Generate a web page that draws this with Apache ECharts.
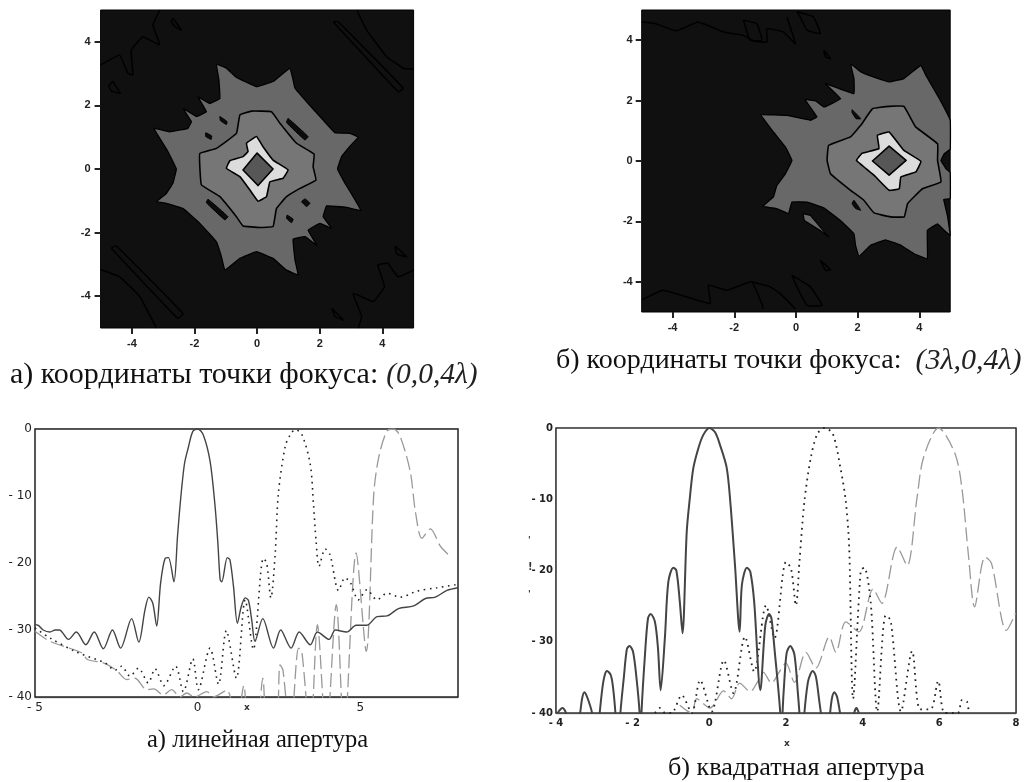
<!DOCTYPE html>
<html><head><meta charset="utf-8">
<style>html,body{margin:0;padding:0;background:#fff}#c{width:1025px;height:782px;filter:blur(0.55px)}</style>
<script src="https://cdn.jsdelivr.net/npm/echarts@6/dist/echarts.min.js"></script>
</head><body><div id="c"></div>
<script>
// ---- contour panel (a) : level outlines, data units
const aOuter=[[-1.30,3.30],[-0.98,3.17],[-0.66,2.88],[-0.02,2.59],[0.51,2.75],[1.05,3.17],[1.15,2.80],[1.21,2.54],[1.63,2.06],[2.11,1.54],[2.49,1.14],[2.97,1.12],[3.23,1.00],[2.97,0.72],[2.70,0.39],[2.57,0],[2.81,-0.45],[3.07,-0.87],[3.32,-1.31],[2.86,-1.21],[2.22,-1.16],[2.11,-1.50],[2.38,-1.87],[2.01,-1.71],[1.63,-1.92],[1.90,-2.39],[1.53,-2.13],[1.15,-2.21],[1.21,-2.86],[1.31,-3.33],[0.94,-3.18],[0.51,-2.81],[-0.02,-2.60],[-0.55,-2.81],[-1.03,-3.18],[-1.14,-2.76],[-1.30,-2.29],[-1.83,-1.71],[-2.37,-1.24],[-2.90,-1.08],[-3.22,-1.03],[-2.90,-0.77],[-2.69,-0.45],[-2.58,0],[-2.85,0.55],[-3.30,1.28],[-2.79,1.17],[-2.21,1.28],[-2.10,1.49],[-2.37,1.91],[-1.94,1.65],[-1.62,1.80],[-1.89,2.27],[-1.51,2.06],[-1.19,2.22],[-1.22,2.80]];
const aInner=[[-0.55,1.70],[-0.18,1.82],[0.46,1.80],[0.73,1.44],[1.26,0.81],[1.82,0.47],[1.79,0.07],[1.88,-0.35],[1.37,-0.61],[0.94,-0.87],[0.62,-1.24],[0.51,-1.81],[0.09,-1.84],[-0.45,-1.79],[-0.66,-1.50],[-1.19,-0.87],[-1.78,-0.50],[-1.83,0.07],[-1.83,0.49],[-1.30,0.65],[-0.66,1.12]];
const aLight=[[-0.34,0.81],[-0.02,1.02],[0.19,0.70],[0.51,0.28],[0.99,-0.03],[0.83,-0.29],[0.41,-0.40],[0.30,-0.87],[0.03,-1.01],[-0.23,-0.66],[-0.55,-0.24],[-0.98,0.02],[-0.87,0.26],[-0.45,0.39],[-0.29,0.55]];
const aCore=[[0,0.50],[0.51,0],[0.03,-0.52],[-0.45,-0.03]];
const aHoles=[
 [[-1.19,1.65],[-0.96,1.49],[-0.98,1.40],[-1.17,1.52]],
 [[-1.64,1.14],[-1.45,1.04],[-1.47,0.93],[-1.64,1.02]],
 [[0.99,1.59],[1.63,1.02],[1.53,0.91],[0.94,1.46]],
 [[-1.57,-0.95],[-0.93,-1.50],[-1.03,-1.60],[-1.62,-1.06]],
 [[1.53,-0.94],[1.69,-1.08],[1.58,-1.18],[1.42,-1.03]],
 [[0.96,-1.45],[1.15,-1.58],[1.10,-1.69],[0.94,-1.55]]];
const aFaint=[
 [[-5,3.27],[-4.39,3.58],[-4.13,3.01],[-3.97,2.96],[-4.02,3.74],[-3.65,4.16],[-3.11,3.90],[-3.33,4.53],[-3.11,5]],
 [[-2.69,4.74],[-2.42,4.37],[-2.63,4.48],[-2.74,4.63],[-2.69,4.74]],
 [[-4.61,2.75],[-4.37,2.38],[-4.66,2.46],[-4.74,2.61],[-4.61,2.75]],
 [[3.18,5],[3.50,4.37],[4.14,3.53],[4.67,3.17],[5,3.14]],
 [[2.43,4.63],[2.59,4.63],[4.67,2.54],[4.51,2.43],[2.43,4.63]],
 [[-5,-3.16],[-4.39,-3.39],[-3.75,-4.01],[-3.22,-5]],
 [[-4.66,-2.49],[-4.50,-2.42],[-2.37,-4.54],[-2.53,-4.70],[-4.66,-2.49]],
 [[5,-3.18],[4.50,-3.39],[4.18,-2.97],[3.86,-3.02],[4.07,-3.70],[3.71,-4.17],[3.07,-3.91],[3.34,-4.64],[3.23,-5]],
 [[4.41,-2.42],[4.78,-2.76],[4.46,-2.67],[4.41,-2.42]],
 [[2.38,-4.38],[2.75,-4.75],[2.49,-4.64],[2.38,-4.38]]];
// ---- contour panel (b)
const bOuter=[[1.77,3.22],[2.10,2.95],[2.53,2.78],[3.02,2.62],[3.50,2.73],[4.05,3.17],[4.21,2.84],[4.65,2.06],[5,1.35],[5,0.39],[4.81,0.24],[4.70,0.02],[4.86,-0.25],[5,-0.38],[5,-1.25],[4.79,-1.27],[4.91,-1.80],[5,-2.46],[4.86,-2.35],[4.59,-2.08],[4.26,-2.30],[4.26,-3.24],[3.83,-3.07],[3.40,-2.79],[2.90,-2.61],[2.42,-2.79],[2.04,-3.16],[1.93,-2.79],[1.88,-2.41],[1.44,-1.97],[0.90,-1.55],[0.36,-1.36],[-0.13,-1.36],[-0.24,-1.74],[-0.62,-1.58],[-1.07,-1.50],[-0.73,-1.19],[-0.62,-0.81],[-0.34,-0.42],[-0.13,0.02],[-0.34,0.46],[-0.73,0.96],[-1.13,1.53],[-0.29,1.51],[0.47,1.35],[0.68,1.46],[0.30,2.03],[0.64,1.99],[0.91,1.79],[1.45,2.06],[0.96,2.56],[1.88,2.23],[1.88,2.73]];
const bInner=[[2.48,1.73],[3.02,1.81],[3.50,1.81],[3.88,1.13],[4.59,0.57],[4.59,0.02],[4.70,-0.69],[4.10,-0.92],[3.62,-1.41],[3.51,-1.85],[3.07,-1.85],[2.53,-1.72],[2.20,-1.30],[1.77,-0.97],[1.12,-0.42],[1.01,0.02],[1.06,0.52],[1.77,0.80],[2.10,1.18]];
const bLight=[[2.64,0.85],[3.02,0.96],[3.50,0.35],[4.05,-0.01],[3.89,-0.36],[3.40,-0.53],[3.35,-0.92],[3.02,-0.97],[2.53,-0.47],[1.96,0.02],[2.15,0.26],[2.69,0.41]];
const bCore=[[3.02,0.49],[3.57,0.02],[3.02,-0.47],[2.48,0]];
const bHoles=[[[1.82,1.70],[2.10,1.40],[1.95,1.40],[1.82,1.60]],[[1.88,-1.30],[2.10,-1.63],[1.93,-1.57],[1.82,-1.41]]];
const bIsland=[[0.23,-1.74],[0.47,-1.80],[1.06,-2.52],[0.79,-2.30],[0.27,-1.97]];
const bFaint=[
 [[-5,4.6],[-4.57,4.55],[-3.87,4.31],[-3.17,4.6],[-2.35,4.27],[-1.70,4.16],[-1.37,3.97],[-0.94,3.94],[-0.94,4.38],[-0.40,4.27],[-0.02,3.88],[-0.29,4.77]],
 [[-1.70,4.66],[-1.27,4.55],[-1.10,4.0],[-1.49,4.0],[-1.70,4.66]],
 [[0.03,4.94],[0.57,4.77],[0.79,4.22],[0.36,4.33],[0.14,4.77],[0.03,4.94]],
 [[0.90,3.67],[1.12,3.39],[0.96,3.44],[0.90,3.67]],
 [[-5,-4.6],[-4.30,-4.28],[-2.78,-4.72],[-2.84,-4.11],[-2.24,-4.28],[-1.43,-4.0],[-1.05,-4.89]],
 [[-1.43,-4.0],[-0.83,-4.17],[-0.51,-4.39],[-0.02,-4.89]],
 [[-0.13,-3.78],[0.47,-4.17],[0.85,-4.78],[0.36,-4.78],[0.03,-4.17],[-0.13,-3.78]],
 [[0.79,-3.29],[1.12,-3.60],[0.96,-3.62],[0.79,-3.29]]];
// ---- pattern cut, linear aperture
const cSolid=[[-5,-29.2],[-4.9,-29.3],[-4.75,-30],[-4.54,-30.3],[-4.38,-30],[-4.25,-30],[-3.97,-31.4],[-3.73,-30.3],[-3.44,-32.2],[-3.18,-30.3],[-2.9,-32.8],[-2.62,-30],[-2.37,-32.7],[-2.03,-28.3],[-1.81,-31.8],[-1.62,-27],[-1.5,-25.1],[-1.38,-26],[-1.26,-29.4],[-1.14,-23],[-1.0,-19.3],[-0.9,-19.2],[-0.73,-22.8],[-0.62,-16],[-0.54,-11.3],[-0.41,-5.3],[-0.29,-2.8],[-0.15,-0.35],[0,0],[0.17,-0.85],[0.38,-4.8],[0.53,-11.3],[0.62,-17],[0.69,-22.5],[0.74,-22.8],[0.91,-19.2],[0.99,-19.5],[1.1,-23.5],[1.22,-29],[1.34,-26.5],[1.46,-25.2],[1.56,-25.6],[1.66,-28.5],[1.76,-31.7],[2.0,-28.3],[2.33,-32.7],[2.55,-30],[2.87,-32.7],[3.12,-30.3],[3.46,-32.2],[3.68,-30.3],[4.04,-31.4],[4.23,-30],[4.58,-30.3],[4.87,-29.3],[5.2,-29.3],[5.51,-28],[5.82,-27.9],[6.17,-26.8],[6.64,-26.4],[7.0,-25.3],[7.3,-25.1],[7.66,-24.1],[8,-23.7]];
const cDotted=[[-5,-29.7],[-4.54,-31.2],[-3.72,-33.3],[-2.85,-34.9],[-2.54,-36],[-2.34,-35.4],[-2.08,-36.9],[-1.82,-35.7],[-1.52,-37.9],[-1.31,-35.8],[-1.04,-38.3],[-0.68,-35.4],[-0.44,-39.2],[-0.15,-34.3],[0.02,-38.9],[0.38,-32.7],[0.64,-38.1],[0.88,-30.1],[1.19,-37.2],[1.46,-25.5],[1.71,-32.9],[2.02,-19.3],[2.12,-20],[2.25,-25.2],[2.38,-18.8],[2.48,-9.6],[2.69,-2.6],[2.85,-0.8],[3,-0.1],[3.2,-0.8],[3.46,-5.3],[3.56,-11.3],[3.64,-16.8],[3.73,-20.5],[3.92,-17.9],[4.07,-18.8],[4.33,-24.1],[4.53,-22.2],[4.7,-23],[4.94,-25.5],[5.2,-24],[5.51,-25.5],[5.82,-24.5],[6.23,-25.1],[6.74,-24.2],[7.35,-23.7],[8,-23.2]];
const cDashed=[[-5,-30.2],[-4.54,-31.7],[-3.57,-33.4],[-3.39,-34.4],[-2.9,-34.9],[-2.5,-36],[-2.18,-37.4],[-1.93,-37.2],[-1.57,-38.9],[-1.35,-38.8],[-1.06,-39.7],[-0.8,-38.9],[-0.54,-40],[-0.34,-39.4],[-0.1,-40],[0.28,-39.2],[0.48,-40],[0.89,-39],[1.2,-44],[1.42,-38.3],[1.56,-44],[1.8,-44],[2.0,-37.2],[2.15,-46],[2.4,-46],[2.53,-35.2],[2.62,-36],[2.85,-46],[3.1,-32.7],[3.2,-33.2],[3.46,-46],[3.68,-29.2],[3.95,-46],[4.26,-26.2],[4.5,-46],[4.87,-18.5],[5.18,-33.2],[5.41,-9.8],[5.56,-4.3],[5.81,-0.35],[6,0],[6.2,-0.85],[6.53,-6.3],[6.69,-12.3],[6.89,-16.3],[7.15,-14.9],[7.46,-17.5],[7.76,-19]];
// ---- pattern cut, square aperture
const dSolid=[[-3.96,-40],[-3.83,-39.3],[-3.74,-40],[-3.55,-46],[-3.37,-40],[-3.32,-38],[-3.26,-37.1],[-3.2,-37.6],[-3.12,-38.8],[-3.06,-40],[-2.96,-46],[-2.86,-40],[-2.79,-36.5],[-2.73,-34.7],[-2.67,-34.1],[-2.57,-34.7],[-2.51,-36.5],[-2.45,-40],[-2.38,-46],[-2.32,-40],[-2.23,-35],[-2.15,-31],[-2.08,-30.6],[-1.99,-31.4],[-1.9,-35.1],[-1.82,-40],[-1.8,-46],[-1.77,-40],[-1.68,-31.9],[-1.6,-26.7],[-1.53,-26.1],[-1.42,-27.2],[-1.34,-30.9],[-1.27,-36.8],[-1.16,-29.5],[-1.07,-21.6],[-0.94,-19.6],[-0.86,-20],[-0.77,-24.4],[-0.7,-28.8],[-0.59,-14.6],[-0.51,-9.9],[-0.42,-5.7],[-0.29,-2.9],[-0.16,-1],[0,0],[0.15,-0.6],[0.28,-2.4],[0.45,-5.5],[0.54,-9.9],[0.67,-19.3],[0.79,-28.6],[0.85,-22],[0.98,-19.6],[1.07,-20.2],[1.17,-24.4],[1.33,-36.8],[1.46,-27.7],[1.56,-26.1],[1.62,-26.7],[1.7,-31],[1.85,-40],[1.88,-46],[1.91,-40],[1.96,-35.2],[2.02,-31.5],[2.11,-30.6],[2.22,-31.8],[2.31,-37.2],[2.35,-40],[2.41,-46],[2.48,-40],[2.57,-35.7],[2.64,-34.5],[2.7,-34.1],[2.78,-34.9],[2.87,-38.4],[2.91,-40],[3.03,-46],[3.15,-40],[3.2,-37.9],[3.26,-37.1],[3.33,-37.7],[3.41,-40],[3.6,-46],[3.78,-40],[3.84,-39.3],[3.9,-40]];
const dDotted=[[-1.42,-40],[-1.29,-39.3],[-1.15,-40],[-0.99,-40],[-0.72,-37.5],[-0.46,-40],[-0.24,-35.4],[0.06,-39.8],[0.38,-32.6],[0.63,-37.2],[0.93,-29.3],[1.17,-34.2],[1.48,-24.9],[1.7,-29.5],[2,-18.8],[2.13,-19.7],[2.26,-24.9],[2.35,-18.8],[2.48,-10.3],[2.65,-4.1],[2.82,-0.8],[3,0],[3.22,-0.8],[3.43,-5.9],[3.56,-10.3],[3.65,-17],[3.75,-38],[3.95,-20],[4.04,-19.6],[4.21,-24.5],[4.38,-39.8],[4.6,-26.3],[4.73,-27],[5,-39.8],[5.29,-31.3],[5.5,-39.5],[5.77,-39.5],[5.97,-35.5],[6.14,-40],[6.48,-40],[6.59,-38.2],[6.72,-38.4],[6.76,-39.6]];
const dDashed=[[-0.77,-38.9],[-0.46,-40],[-0.33,-38],[0.02,-39.3],[0.37,-36.9],[0.58,-38],[0.79,-35.8],[1.07,-37],[1.24,-35.8],[1.41,-34.3],[1.62,-35.8],[1.83,-34.2],[2,-33],[2.22,-35.7],[2.52,-31.5],[2.78,-33.7],[3.13,-29.3],[3.3,-31.5],[3.56,-27.2],[3.9,-28.6],[4.27,-22.6],[4.5,-24.6],[4.9,-16.7],[5.16,-19.3],[5.42,-9.7],[5.59,-4.1],[5.98,0],[6.41,-3.6],[6.59,-8.5],[6.76,-17.9],[6.92,-25.1],[7.19,-18.1],[7.36,-19],[7.75,-28.4],[7.99,-26]];
// ---- ticks and captions
const contourTicks=[-4,-2,0,2,4];
const cXTicks=[-5,0,5];
const capA=['а) координаты точки фокуса:','(0,0,4λ)'];
const capB=['б) координаты точки фокуса:','(3λ,0,4λ)'];
const capC='а) линейная апертура';
const capD='б) квадратная апертура';

function shape(pts,idx,fill,stroke,w,closed,sm){
  return {type:'custom',coordinateSystem:'cartesian2d',xAxisIndex:idx,yAxisIndex:idx,silent:true,data:pts,
    encode:{x:0,y:1},
    renderItem:function(p,api){
      if(p.dataIndex!==0) return null;
      return {type:closed?'polygon':'polyline',
        shape:{points:pts.map(q=>api.coord(q)),smooth:sm||0},
        style:{fill:closed?fill:null,stroke:stroke,lineWidth:w,lineJoin:'round'}};
    }};
}
function contour(idx,outer,inner,light,core,holes,faint,extra){
  const s=[];
  faint.forEach(f=>s.push(shape(f,idx,null,'#000',1.5,false,0.1)));
  s.push(shape(outer,idx,'#686868','#000',1.3,true,0.06));
  holes.forEach(h=>s.push(shape(h,idx,'#0c0c0c','#000',1,true,0.1)));
  if(extra) s.push(shape(extra,idx,'#686868','#000',1.2,true));
  s.push(shape(inner,idx,'#767676','#000',1.6,true,0.08));
  s.push(shape(light,idx,'#dcdcdc','#000',1.6,true,0.08));
  s.push(shape(core,idx,'#575757','#000',1.6,true));
  return s;
}
function line(d,idx,color,type,w){
  return {type:'line',xAxisIndex:idx,yAxisIndex:idx,data:d,showSymbol:false,smooth:0.3,silent:true,
    lineStyle:{color:color,type:type,width:w}};
}
const labC={fontFamily:'Liberation Sans',fontWeight:'bold',fontSize:11,color:'#222'};
function cAxis(idx,m){
  return {type:'value',gridIndex:idx,min:-5,max:5,splitLine:{show:false},
    axisLine:{show:false,onZero:false},
    axisTick:{show:true,customValues:contourTicks,length:6,lineStyle:{color:'#222',width:2}},
    axisLabel:Object.assign({customValues:contourTicks,margin:m},labC)};
}
function yAxisLine(idx,lab,pad){
  return {type:'value',gridIndex:idx,min:-40,max:0,interval:10,
    splitLine:{show:true,lineStyle:{color:'#999',width:1.3}},
    axisLine:{show:false,onZero:false},axisTick:{show:false},
    axisLabel:Object.assign({margin:3,padding:[pad,0,0,0],formatter:v=>v===0?'0':'- '+Math.abs(v)},lab)};
}
const labL={fontFamily:'DejaVu Sans',fontSize:12,color:'#222'};
const labR={fontFamily:'DejaVu Sans',fontWeight:'bold',fontSize:10,color:'#222'};
function cap(parts,left,top,size,isize,gap){
  const n={fontFamily:'Liberation Serif',fontWeight:'normal',fontSize:size,color:'#111'};
  const i={fontFamily:'Liberation Serif',fontWeight:'normal',fontStyle:'italic',fontSize:isize,color:'#222',padding:[0,0,0,gap]};
  const text=Array.isArray(parts)?'{n|'+parts[0]+'}{i|'+parts[1]+'}':'{n|'+parts+'}';
  return {text:text,left:left,top:top,padding:0,textStyle:{rich:{n:n,i:i}}};
}
const chart=echarts.init(document.getElementById('c'),null,{renderer:'canvas'});
chart.setOption({
  animation:false,backgroundColor:'#fff',
  title:[cap(capA,10,360,30,29.5,8),cap(capB,556,346,28,30,14),cap(capC,147,728,24.5),cap(capD,668,755,26.2)],
  grid:[
    {left:100.6,top:10,width:313,height:318,show:true,backgroundColor:'#101010',borderColor:'#000',borderWidth:1},
    {left:641.7,top:10,width:308.5,height:302,show:true,backgroundColor:'#101010',borderColor:'#000',borderWidth:1},
    {left:35,top:429,width:423,height:268,show:true,backgroundColor:'#fff',borderColor:'#222',borderWidth:1.5,z:3},
    {left:556,top:428,width:460,height:285,show:true,backgroundColor:'#fff',borderColor:'#333',borderWidth:1.5,z:3}
  ],
  xAxis:[cAxis(0,10),cAxis(1,10),
    {type:'value',gridIndex:2,min:-5,max:8,splitLine:{show:true,lineStyle:{color:'#999',width:1.3}},axisLine:{show:false,onZero:false},
     axisTick:{show:false,customValues:cXTicks},axisLabel:Object.assign({customValues:cXTicks,margin:5,formatter:v=>v<0?'- '+Math.abs(v):''+v},labL)},
    {type:'value',gridIndex:3,min:-4,max:8,interval:2,splitLine:{show:true,lineStyle:{color:'#999',width:1.5}},axisLine:{show:false,onZero:false},
     axisTick:{show:false},axisLabel:Object.assign({margin:5,formatter:v=>v<0?'- '+Math.abs(v):''+v},labR)}],
  yAxis:[cAxis(0,10),cAxis(1,9),yAxisLine(2,labL,5),yAxisLine(3,labR,4)],
  series:[].concat(
    contour(0,aOuter,aInner,aLight,aCore,aHoles,aFaint),
    contour(1,bOuter,bInner,bLight,bCore,bHoles,bFaint,bIsland),
    [line(cDashed,2,'#999',[14,5],1.3),line(cDotted,2,'#222',[1.6,4.5],1.6),line(cSolid,2,'#444',null,1.4),
     line(dDashed,3,'#999',[14,5],1.3),line(dDotted,3,'#222',[1.7,4.5],1.8),line(dSolid,3,'#444',null,2)]
  ),
  graphic:[
    {type:'text',left:244,top:703,silent:true,style:{text:'x',font:'bold 9px "DejaVu Sans"',fill:'#333'}},
    {type:'text',left:784,top:739,silent:true,style:{text:'x',font:'bold 9px "DejaVu Sans"',fill:'#333'}},
    {type:'text',left:528,top:536,silent:true,style:{text:"'",font:'bold 9px "DejaVu Sans"',fill:'#333'}},
    {type:'text',left:528,top:562,silent:true,style:{text:"!",font:'bold 10px "DejaVu Sans"',fill:'#333'}},
    {type:'text',left:528,top:590,silent:true,style:{text:"'",font:'bold 9px "DejaVu Sans"',fill:'#333'}}
  ]
});
</script></body></html>
